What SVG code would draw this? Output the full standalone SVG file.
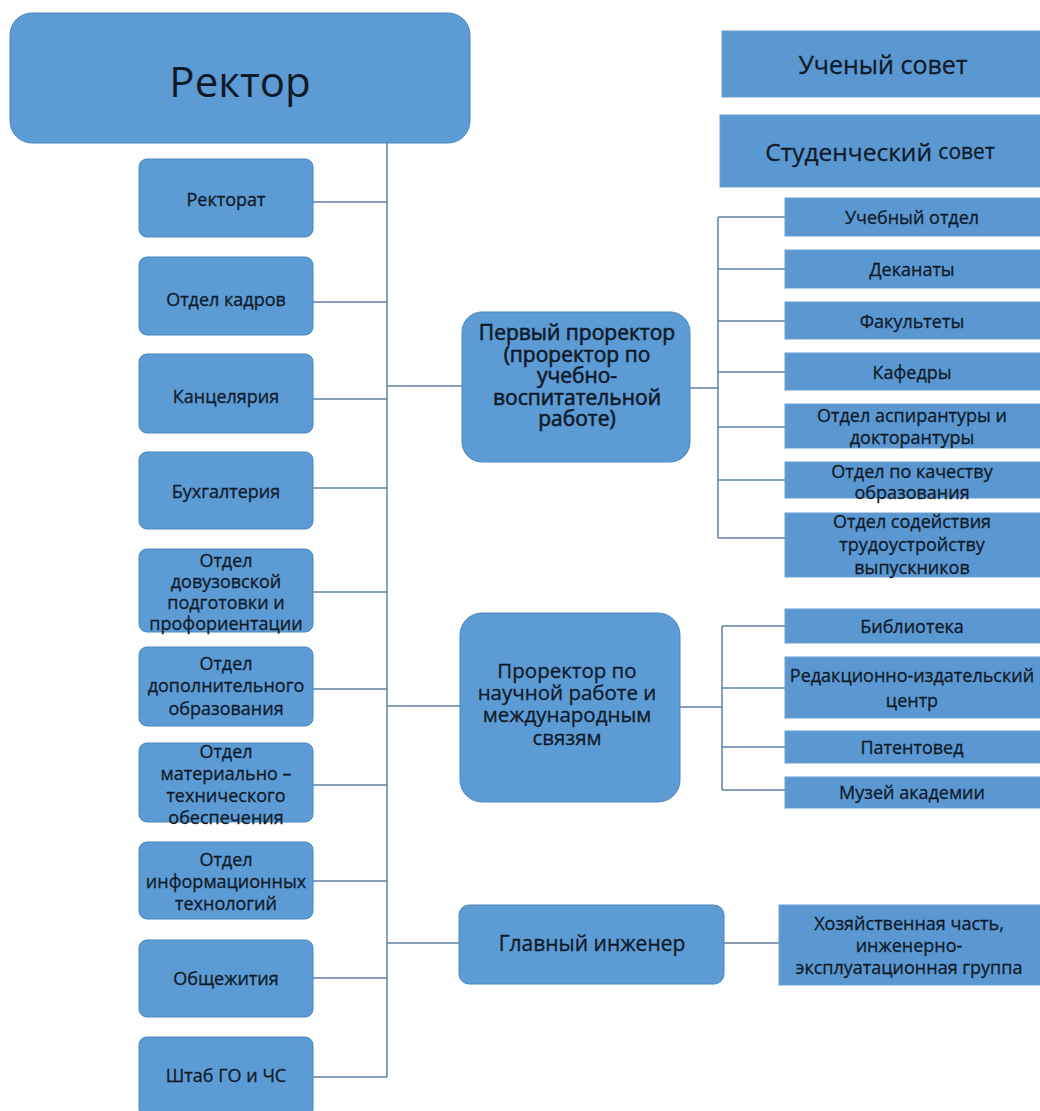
<svg xmlns="http://www.w3.org/2000/svg" width="1040" height="1111" viewBox="0 0 1040 1111">
<style>
.box{fill:#5d9bd4;stroke:#4d87bd;stroke-width:1}
.rbox{fill:#5b98d2;stroke:#6a9fd0;stroke-width:1}
text{font-family:"Open Sans","Noto Sans","Liberation Sans",sans-serif;fill:#0f1a29;text-anchor:middle;dominant-baseline:central;stroke:#0f1a29;stroke-width:0.3}
.big{font-size:42px;stroke-width:0}
.l{font-size:18px}
.m{font-size:20.5px}
.m1{font-size:21px;stroke-width:0.6}
.r{font-size:18px}
.c{font-size:25px}
.conn line{stroke:#5f80a8;stroke-width:1.5}
.trunk{stroke:#6b7d93;stroke-width:2}
</style>
<rect width="1040" height="1111" fill="#ffffff"/>

<g class="conn" id="connectors">
<line class="trunk" x1="387" y1="143" x2="387" y2="1077"/>
<line x1="313" y1="202" x2="387" y2="202"/>
<line x1="313" y1="302" x2="387" y2="302"/>
<line x1="313" y1="399" x2="387" y2="399"/>
<line x1="313" y1="488" x2="387" y2="488"/>
<line x1="313" y1="592" x2="387" y2="592"/>
<line x1="313" y1="689" x2="387" y2="689"/>
<line x1="313" y1="785" x2="387" y2="785"/>
<line x1="313" y1="881" x2="387" y2="881"/>
<line x1="313" y1="978" x2="387" y2="978"/>
<line x1="313" y1="1077" x2="387" y2="1077"/>
<line x1="387" y1="386" x2="462" y2="386"/>
<line x1="387" y1="706" x2="460" y2="706"/>
<line x1="387" y1="943" x2="459" y2="943"/>
<line x1="690" y1="388" x2="718" y2="388"/>
<line x1="718" y1="217" x2="718" y2="538"/>
<line x1="718" y1="217" x2="785" y2="217"/>
<line x1="718" y1="269" x2="785" y2="269"/>
<line x1="718" y1="321" x2="785" y2="321"/>
<line x1="718" y1="372" x2="785" y2="372"/>
<line x1="718" y1="427" x2="785" y2="427"/>
<line x1="718" y1="480" x2="785" y2="480"/>
<line x1="718" y1="538" x2="785" y2="538"/>
<line x1="680" y1="707" x2="722" y2="707"/>
<line x1="722" y1="626" x2="722" y2="790"/>
<line x1="722" y1="626" x2="785" y2="626"/>
<line x1="722" y1="688" x2="785" y2="688"/>
<line x1="722" y1="747" x2="785" y2="747"/>
<line x1="722" y1="790" x2="785" y2="790"/>
<line x1="724" y1="943" x2="779" y2="943" style="stroke:#8a9bb0;stroke-width:2"/>
</g>

<g id="rector"><rect class="box" x="10" y="13" width="460" height="130" rx="22"/><text class="big" x="240" y="80">Ректор</text></g>

<g id="uchsovet"><rect class="rbox" x="722" y="31" width="325" height="66"/><text class="c" x="883" y="64">Ученый совет</text></g>
<g id="studsovet"><rect class="rbox" x="720" y="115" width="327" height="72"/><text x="880" y="151" style="font-size:24.5px">Студенческий <tspan style="font-size:21px">совет</tspan></text></g>

<g id="rectorat"><rect class="box" x="139" y="159" width="174" height="78" rx="8"/><text class="l" x="226" y="199">Ректорат</text></g>
<g id="kadry"><rect class="box" x="139" y="257" width="174" height="78" rx="8"/><text class="l" x="226" y="299">Отдел кадров</text></g>
<g id="kanc"><rect class="box" x="139" y="354" width="174" height="79" rx="8"/><text class="l" x="226" y="396">Канцелярия</text></g>
<g id="buh"><rect class="box" x="139" y="452" width="174" height="77" rx="8"/><text class="l" x="226" y="491">Бухгалтерия</text></g>
<g id="dovuz"><rect class="box" x="139" y="549" width="174" height="83" rx="8"/><text class="l"><tspan x="226" y="560">Отдел</tspan><tspan x="226" y="581">довузовской</tspan><tspan x="226" y="602">подготовки и</tspan><tspan x="226" y="623">профориентации</tspan></text></g>
<g id="dop"><rect class="box" x="139" y="647" width="174" height="79" rx="8"/><text class="l"><tspan x="226" y="663">Отдел</tspan><tspan x="226" y="685">дополнительного</tspan><tspan x="226" y="708">образования</tspan></text></g>
<g id="mat"><rect class="box" x="139" y="743" width="174" height="79" rx="8"/><text class="l"><tspan x="226" y="751">Отдел</tspan><tspan x="226" y="773">материально –</tspan><tspan x="226" y="795">технического</tspan><tspan x="226" y="817">обеспечения</tspan></text></g>
<g id="it"><rect class="box" x="139" y="842" width="174" height="77" rx="8"/><text class="l"><tspan x="226" y="859">Отдел</tspan><tspan x="226" y="881">информационных</tspan><tspan x="226" y="903">технологий</tspan></text></g>
<g id="obsch"><rect class="box" x="139" y="940" width="174" height="77" rx="8"/><text class="l" x="226" y="978">Общежития</text></g>
<g id="shtab"><rect class="box" x="139" y="1037" width="174" height="80" rx="8"/><text class="l" x="226" y="1075">Штаб ГО и ЧС</text></g>

<g id="first"><rect class="box" x="462" y="312" width="228" height="150" rx="20"/><text class="m1"><tspan x="577" y="332">Первый проректор</tspan><tspan x="577" y="353.5">(проректор по</tspan><tspan x="577" y="375">учебно-</tspan><tspan x="577" y="396.5">воспитательной</tspan><tspan x="577" y="418">работе)</tspan></text></g>
<g id="science"><rect class="box" x="460" y="613" width="220" height="189" rx="22"/><text class="m"><tspan x="567" y="670">Проректор по</tspan><tspan x="567" y="692">научной работе и</tspan><tspan x="567" y="714">международным</tspan><tspan x="567" y="737">связям</tspan></text></g>
<g id="engineer"><rect class="box" x="459" y="905" width="265" height="79" rx="10"/><text class="m" x="592" y="943" style="font-size:21px">Главный инженер</text></g>

<g id="uchotdel"><rect class="rbox" x="785" y="198" width="262" height="38"/><text class="r" x="912" y="217">Учебный отдел</text></g>
<g id="dekanaty"><rect class="rbox" x="785" y="250" width="262" height="38"/><text class="r" x="912" y="269">Деканаты</text></g>
<g id="fakultety"><rect class="rbox" x="785" y="302" width="262" height="37"/><text class="r" x="912" y="321">Факультеты</text></g>
<g id="kafedry"><rect class="rbox" x="785" y="353" width="262" height="37"/><text class="r" x="912" y="372">Кафедры</text></g>
<g id="aspir"><rect class="rbox" x="785" y="404" width="262" height="44"/><text class="r"><tspan x="912" y="415">Отдел аспирантуры и</tspan><tspan x="912" y="437">докторантуры</tspan></text></g>
<g id="kachestvo"><rect class="rbox" x="785" y="462" width="262" height="36"/><text class="r"><tspan x="912" y="471">Отдел по качеству</tspan><tspan x="912" y="492">образования</tspan></text></g>
<g id="trud"><rect class="rbox" x="785" y="513" width="262" height="64"/><text class="r"><tspan x="912" y="521">Отдел содействия</tspan><tspan x="912" y="544">трудоустройству</tspan><tspan x="912" y="567">выпускников</tspan></text></g>
<g id="biblio"><rect class="rbox" x="785" y="609" width="262" height="34"/><text class="r" x="912" y="626">Библиотека</text></g>
<g id="red"><rect class="rbox" x="785" y="657" width="262" height="61"/><text class="r"><tspan x="912" y="675">Редакционно-издательский</tspan><tspan x="912" y="700">центр</tspan></text></g>
<g id="patent"><rect class="rbox" x="785" y="731" width="262" height="32"/><text class="r" x="912" y="747">Патентовед</text></g>
<g id="muzey"><rect class="rbox" x="785" y="777" width="262" height="31"/><text class="r" x="912" y="792">Музей академии</text></g>
<g id="hoz"><rect class="rbox" x="779" y="905" width="268" height="80"/><text class="r"><tspan x="909" y="923">Хозяйственная часть,</tspan><tspan x="909" y="945">инженерно-</tspan><tspan x="909" y="967">эксплуатационная группа</tspan></text></g>
</svg>
